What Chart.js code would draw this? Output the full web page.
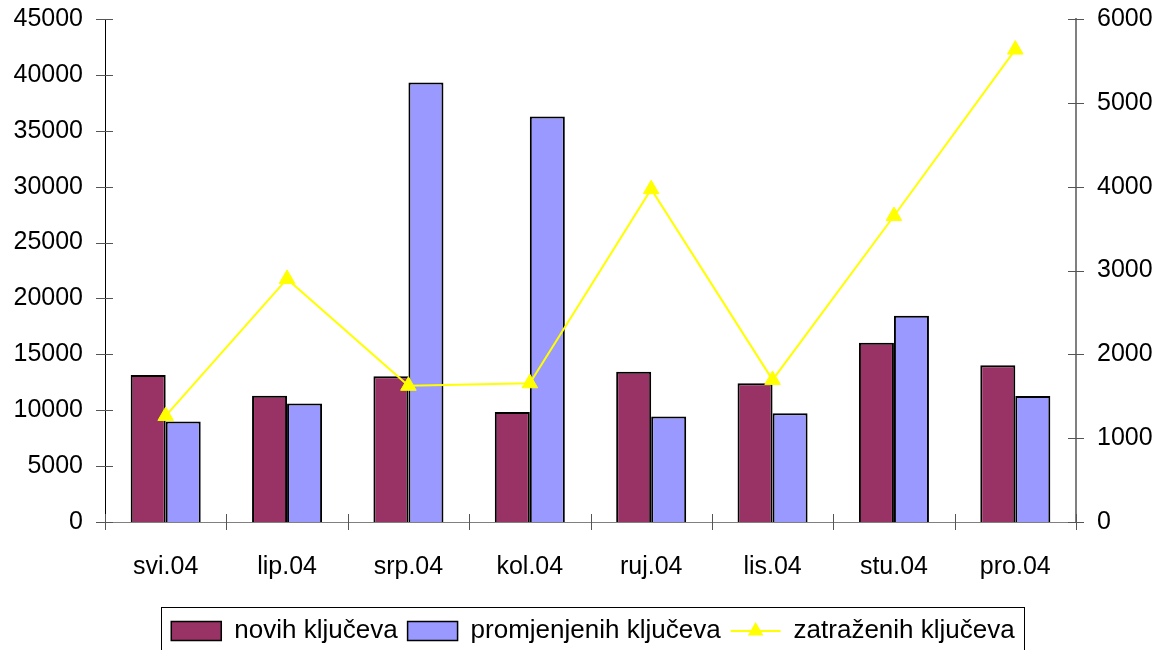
<!DOCTYPE html>
<html>
<head>
<meta charset="utf-8">
<script src="https://cdn.jsdelivr.net/npm/chart.js@4.4.1/dist/chart.umd.min.js"></script>
<style>
  html, body { margin: 0; padding: 0; background: #fff; }
  #wrap { width: 1162px; height: 650px; }
</style>
</head>
<body>
<div id="wrap"><canvas id="keysChart" width="1162" height="650"></canvas></div>
<script>
const months = ['svi.04', 'lip.04', 'srp.04', 'kol.04', 'ruj.04', 'lis.04', 'stu.04', 'pro.04'];
const novih = [13150, 11300, 13030, 9850, 13450, 12420, 16040, 14020];
const promjenjenih = [9000, 10600, 39310, 36280, 9440, 9730, 18450, 11280];
const zatrazenih = [1265, 2900, 1625, 1655, 3970, 1695, 3650, 5635];

const FONT = { family: '"Liberation Sans", Arial, sans-serif', size: 25 };
Chart.defaults.color = '#000';

// cross-shaped tick marks on all three axes, plus a frame round the legend
const axisTicks = {
  id: 'axisTicks',
  afterDraw(chart) {
    const { ctx, chartArea: a, scales } = chart;
    ctx.save();
    ctx.lineWidth = 1;
    ctx.strokeStyle = '#555';
    ctx.beginPath();
    scales.y.ticks.forEach(t => {
      const y = Math.round(scales.y.getPixelForValue(t.value)) + 0.5;
      ctx.moveTo(a.left - 9, y); ctx.lineTo(a.left + 8, y);
    });
    scales.y1.ticks.forEach(t => {
      const y = Math.round(scales.y1.getPixelForValue(t.value)) + 0.5;
      ctx.moveTo(a.right - 8, y); ctx.lineTo(a.right + 8, y);
    });
    const step = scales.x.getPixelForValue(1) - scales.x.getPixelForValue(0);
    for (let i = 0; i <= months.length; i++) {
      const x = Math.round(scales.x.getPixelForValue(i) - step / 2) + 0.5;
      ctx.moveTo(x, a.bottom - 8); ctx.lineTo(x, a.bottom + 8);
    }
    ctx.stroke();

    const boxes = chart.legend.legendHitBoxes;
    if (boxes && boxes.length) {
      const first = boxes[0], last = boxes[boxes.length - 1];
      ctx.strokeStyle = '#000';
      ctx.strokeRect(Math.round(first.left - 10) + 0.5, Math.round(first.top - 11) + 0.5,
        Math.round(last.left + last.width - first.left + 20), 80);
      // line + triangle marker for the line series
      const lb = boxes[2];
      const cy = lb.top + lb.height / 2;
      ctx.strokeStyle = '#FFFF00';
      ctx.fillStyle = '#FFFF00';
      ctx.lineWidth = 2;
      ctx.beginPath();
      ctx.moveTo(lb.left, cy); ctx.lineTo(lb.left + 50, cy);
      ctx.stroke();
      const cx = lb.left + 25, r = 9;
      ctx.beginPath();
      ctx.moveTo(cx, cy - r);
      ctx.lineTo(cx + r * 0.87, cy + r * 0.5);
      ctx.lineTo(cx - r * 0.87, cy + r * 0.5);
      ctx.closePath();
      ctx.fill();
    }
    ctx.restore();
  }
};

const yFit = w => s => { s.width = w; s.paddingTop = 4; s.paddingBottom = 4; };

new Chart(document.getElementById('keysChart').getContext('2d'), {
  type: 'bar',
  data: {
    labels: months,
    datasets: [{
      label: 'novih ključeva',
      data: novih,
      backgroundColor: '#993366',
      borderColor: '#000',
      borderWidth: 2,
      yAxisID: 'y',
      categoryPercentage: 0.577,
      barPercentage: 1
    }, {
      label: 'promjenjenih ključeva',
      data: promjenjenih,
      backgroundColor: '#9999FF',
      borderColor: '#000',
      borderWidth: 2,
      yAxisID: 'y',
      categoryPercentage: 0.577,
      barPercentage: 1
    }, {
      type: 'line',
      label: 'zatraženih ključeva',
      data: zatrazenih,
      borderColor: '#FFFF00',
      backgroundColor: '#FFFF00',
      borderWidth: 2,
      tension: 0,
      pointStyle: 'triangle',
      pointRadius: 9,
      pointBorderWidth: 1,
      yAxisID: 'y1',
      order: -1
    }]
  },
  options: {
    responsive: false,
    animation: false,
    layout: { padding: { top: 19, left: 0, right: -24, bottom: -4 } },
    plugins: {
      tooltip: { enabled: false },
      legend: {
        position: 'bottom',
        labels: {
          font: { family: FONT.family, size: 26 },
          boxWidth: 50,
          boxHeight: 19,
          padding: 10,
          sort: (a, b) => a.datasetIndex - b.datasetIndex,
          generateLabels(chart) {
            const items = Chart.defaults.plugins.legend.labels.generateLabels(chart);
            items.forEach(it => {
              if (it.datasetIndex === 2) {
                it.fillStyle = 'rgba(0,0,0,0)';
                it.strokeStyle = 'rgba(0,0,0,0)';
                it.lineWidth = 0;
              } else {
                it.lineWidth = 1.5;
                it.strokeStyle = '#000';
              }
            });
            return items;
          }
        }
      }
    },
    scales: {
      x: {
        grid: { display: false, drawTicks: false },
        border: { color: '#808080', width: 1 },
        ticks: { font: FONT, padding: 30, maxRotation: 0 },
        afterFit: s => { s.height = 86; }
      },
      y: {
        position: 'left',
        min: 0,
        max: 45000,
        grid: { display: false, drawTicks: false },
        border: { color: '#000', width: 1 },
        ticks: { stepSize: 5000, font: FONT, padding: 22, callback: v => String(v) },
        afterFit: yFit(105)
      },
      y1: {
        position: 'right',
        min: 0,
        max: 6000,
        grid: { display: false, drawTicks: false },
        border: { color: '#808080', width: 2 },
        ticks: { stepSize: 1000, font: FONT, padding: 21, callback: v => String(v) },
        afterFit: yFit(110)
      }
    }
  },
  plugins: [axisTicks]
});
</script>
</body>
</html>
